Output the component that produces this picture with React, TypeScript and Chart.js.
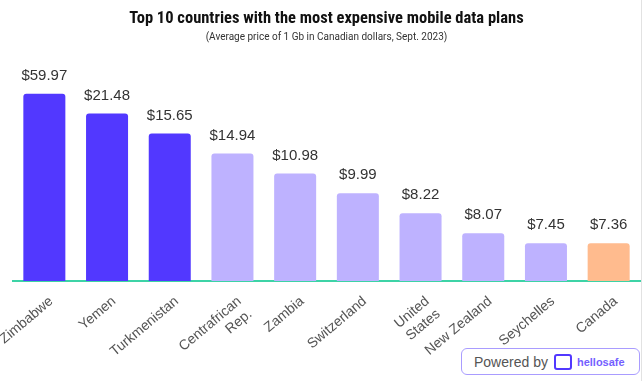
import React, { useEffect, useRef } from "react";
import { Chart, registerables } from "chart.js";

Chart.register(...registerables);

const countries: (string | string[])[] = [
  "Zimbabwe",
  "Yemen",
  "Turkmenistan",
  ["Centrafrican", "Rep."],
  "Zambia",
  "Switzerland",
  ["United", "States"],
  "New Zealand",
  "Seychelles",
  "Canada",
];
const prices = [59.97, 21.48, 15.65, 14.94, 10.98, 9.99, 8.22, 8.07, 7.45, 7.36];
// bar heights as drawn (display scale of the original, not proportional to price)
const barHeights = [9.4, 8.4, 7.4, 6.4, 5.4, 4.4, 3.4, 2.4, 1.9, 1.9];
const barGroups = ["top3", "top3", "top3", "other", "other", "other", "other", "other", "other", "canada"];

const groupColors: Record<string, string> = {
  top3: "#5238FF",
  other: "#BEB2FF",
  canada: "#FFBB8E",
};

const valueLabels = {
  id: "valueLabels",
  afterDatasetsDraw(chart: any) {
    const ctx = chart.ctx;
    const meta = chart.getDatasetMeta(0);
    ctx.save();
    ctx.font = "15px 'Liberation Sans', Arial, sans-serif";
    ctx.fillStyle = "#333333";
    ctx.textAlign = "center";
    ctx.textBaseline = "middle";
    meta.data.forEach((bar: any, i: number) => {
      ctx.fillText("$" + prices[i].toFixed(2), bar.x, bar.y - 18);
    });
    ctx.restore();
  },
};

export default function App() {
  const ref = useRef<HTMLCanvasElement | null>(null);

  useEffect(() => {
    document.body.style.margin = "0";
    const chart = new Chart(ref.current as HTMLCanvasElement, {
      type: "bar",
      data: {
        labels: countries,
        datasets: [
          {
            data: barHeights,
            backgroundColor: barGroups.map((g) => groupColors[g]),
            borderRadius: 3,
            borderSkipped: "bottom",
            categoryPercentage: 1,
            barPercentage: 0.67,
          },
        ],
      },
      options: {
        responsive: false,
        animation: false,
        layout: { padding: { left: 13, right: 4, top: 0, bottom: 0 } },
        plugins: {
          legend: { display: false },
          tooltip: { enabled: false },
          title: {
            display: true,
            text: "Top 10 countries with the most expensive mobile data plans",
            color: "#111111",
            font: { family: "'Liberation Sans Narrow', 'Roboto Condensed', Roboto, sans-serif", size: 16.5, weight: "bold", lineHeight: 1.2 },
            padding: { top: 9, bottom: 0 },
          },
          subtitle: {
            display: true,
            text: "(Average price of 1 Gb in Canadian dollars, Sept. 2023)",
            color: "#333333",
            font: { family: "'Liberation Sans Narrow', Roboto, sans-serif", size: 10, lineHeight: 1.2 },
            padding: { top: 3, bottom: 8 },
          },
        },
        scales: {
          x: {
            grid: { display: false, drawTicks: false },
            border: { display: true, color: "#3DD3A6", width: 2 },
            ticks: {
              autoSkip: false,
              maxRotation: 40,
              minRotation: 40,
              color: "#555555",
              padding: 12,
              labelOffset: 7,
              font: { family: "'Liberation Sans', Arial, sans-serif", size: 14 },
            },
            afterFit(scale: any) {
              scale.height = 100;
              scale.paddingLeft = 0;
              scale.paddingRight = 0;
            },
          },
          y: {
            display: false,
            min: 0,
            max: 11.5,
          },
        },
      },
      plugins: [valueLabels],
    });
    return () => chart.destroy();
  }, []);

  return (
    <div style={{ position: "relative", width: 644, height: 381, background: "#fff", overflow: "hidden" }}>
      <canvas ref={ref} width={644} height={381} />
      <div style={{ position: "absolute", left: 641, top: 0, width: 1, height: 381, background: "#e2e2e2" }} />
      <div
        style={{
          position: "absolute",
          left: 461,
          top: 348,
          width: 177,
          height: 25,
          border: "1px solid #A99CFF",
          borderRadius: 6,
          display: "flex",
          alignItems: "center",
          fontFamily: "'Liberation Sans', Arial, sans-serif",
          background: "#fff",
        }}
      >
        <span style={{ marginLeft: 12, fontSize: 14, color: "#555" }}>Powered by</span>
        <span
          style={{
            marginLeft: 6,
            width: 18,
            height: 16,
            border: "2px solid #5238FF",
            borderRadius: 3,
            boxSizing: "border-box",
            display: "inline-block",
          }}
        />
        <span style={{ marginLeft: 5, fontSize: 11, fontWeight: "bold", color: "#5238FF", opacity: 0.8 }}>hellosafe</span>
      </div>
    </div>
  );
}
